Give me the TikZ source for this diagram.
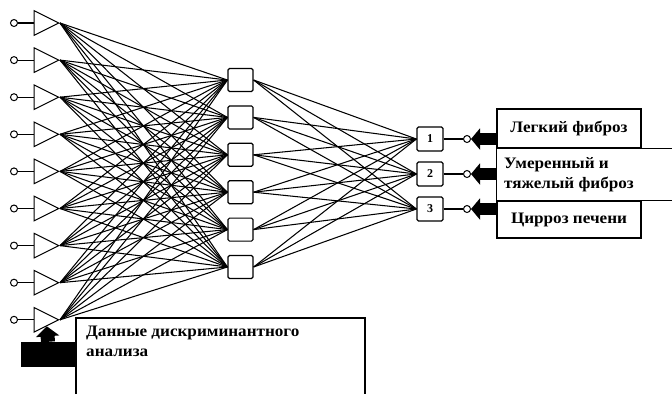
\documentclass[tikz,border=0pt]{standalone}
\usepackage{fontspec}
\setmainfont{Liberation Serif}
\newfontfamily\lblfont[FakeStretch=1.07]{Liberation Serif}
\usetikzlibrary{shapes.geometric, arrows.meta, calc}

\begin{document}
\begin{tikzpicture}[x=1pt, y=-1pt,
  wire/.style={line width=1.05pt},
  frame/.style={line width=1.1pt},
  inp/.style={draw, line width=1pt, isosceles triangle, isosceles triangle stretches,
    minimum width=24.5pt, minimum height=24.5pt, inner sep=0pt},
  dot/.style={draw, circle, line width=1pt, minimum size=7pt, inner sep=0pt, fill=white},
  hid/.style={draw, line width=1.2pt, rounded corners=1.5pt, minimum width=25pt,
    minimum height=23pt, inner sep=0pt},
  outbox/.style={draw, line width=1.2pt, rounded corners=1.5pt, minimum width=26pt,
    minimum height=24pt, inner sep=0pt, font=\bfseries\fontsize{12}{12}\selectfont},
  lbl/.style={minimum width=144pt, inner xsep=8pt, align=left,
    font=\lblfont\bfseries\fontsize{16}{20}\selectfont},
  blkarr/.style={line width=12pt, -{Triangle[length=9pt, width=21pt]}}
]
\useasboundingbox (0,0) rectangle (672,394);

% input layer
\foreach \i in {1,...,9} {
  \node[inp, anchor=apex] (i\i) at (60, {23+37.1*(\i-1)}) {};
  \node[dot] (c\i) at (14, {23+37.1*(\i-1)}) {};
  \draw[wire] (c\i) -- (i\i.west);
}

% hidden layer
\foreach \k in {1,...,6}
  \node[hid] (h\k) at (240.5, {80+37.4*(\k-1)}) {};

% output layer
\node[outbox] (o1) at (430, 139) {1};
\node[outbox] (o2) at (430, 174) {2};
\node[outbox] (o3) at (430, 209) {3};

% all connections
\foreach \i in {1,...,9}
  \foreach \k in {1,...,6}
    \draw[wire] (i\i.apex) -- (h\k.west);
\foreach \k in {1,...,6}
  \foreach \j in {1,2,3}
    \draw[wire] (h\k.east) -- (o\j.west);

% output terminals
\node[dot] (r1) at (467, 139) {};
\node[dot] (r2) at (467, 174) {};
\node[dot] (r3) at (467, 209) {};
\foreach \j in {1,2,3}
  \draw[wire] (o\j.east) -- (r\j.west);

% class labels
\node[lbl, draw, frame, minimum height=39pt] (l1) at (569, 128.5) {Легкий фиброз};
\node[lbl] (l2) at (569, 174.5) {Умеренный и\\тяжелый фиброз};
\node[lbl, draw, frame, minimum height=37pt] (l3) at (569, 219.5) {Цирроз печени};
\draw[frame] ($(l1.south west)+(176,0)$) -- (l1.south west) -- (l3.north west) -- ++(176,0);

% thick arrows into the outputs
\draw[blkarr] (l1.west |- r1) -- (r1);
\draw[blkarr] (l2.west |- r2) -- (r2);
\draw[blkarr] (l3.west |- r3) -- (r3);

% discriminant analysis input
\draw[frame] (76,394) |- (365,318) -- (365,394);
\node[lbl, anchor=north west] (da) at (78,322)
  {Данные дискриминантного\\анализа};
\node[fill=black, minimum width=54pt, minimum height=25pt, inner sep=0pt] (blk) at (48,354.5) {};
\draw[line width=14pt, -{Triangle[length=10pt, width=23pt]}] (blk.north) -- (i9.right side);
\end{tikzpicture}
\end{document}
